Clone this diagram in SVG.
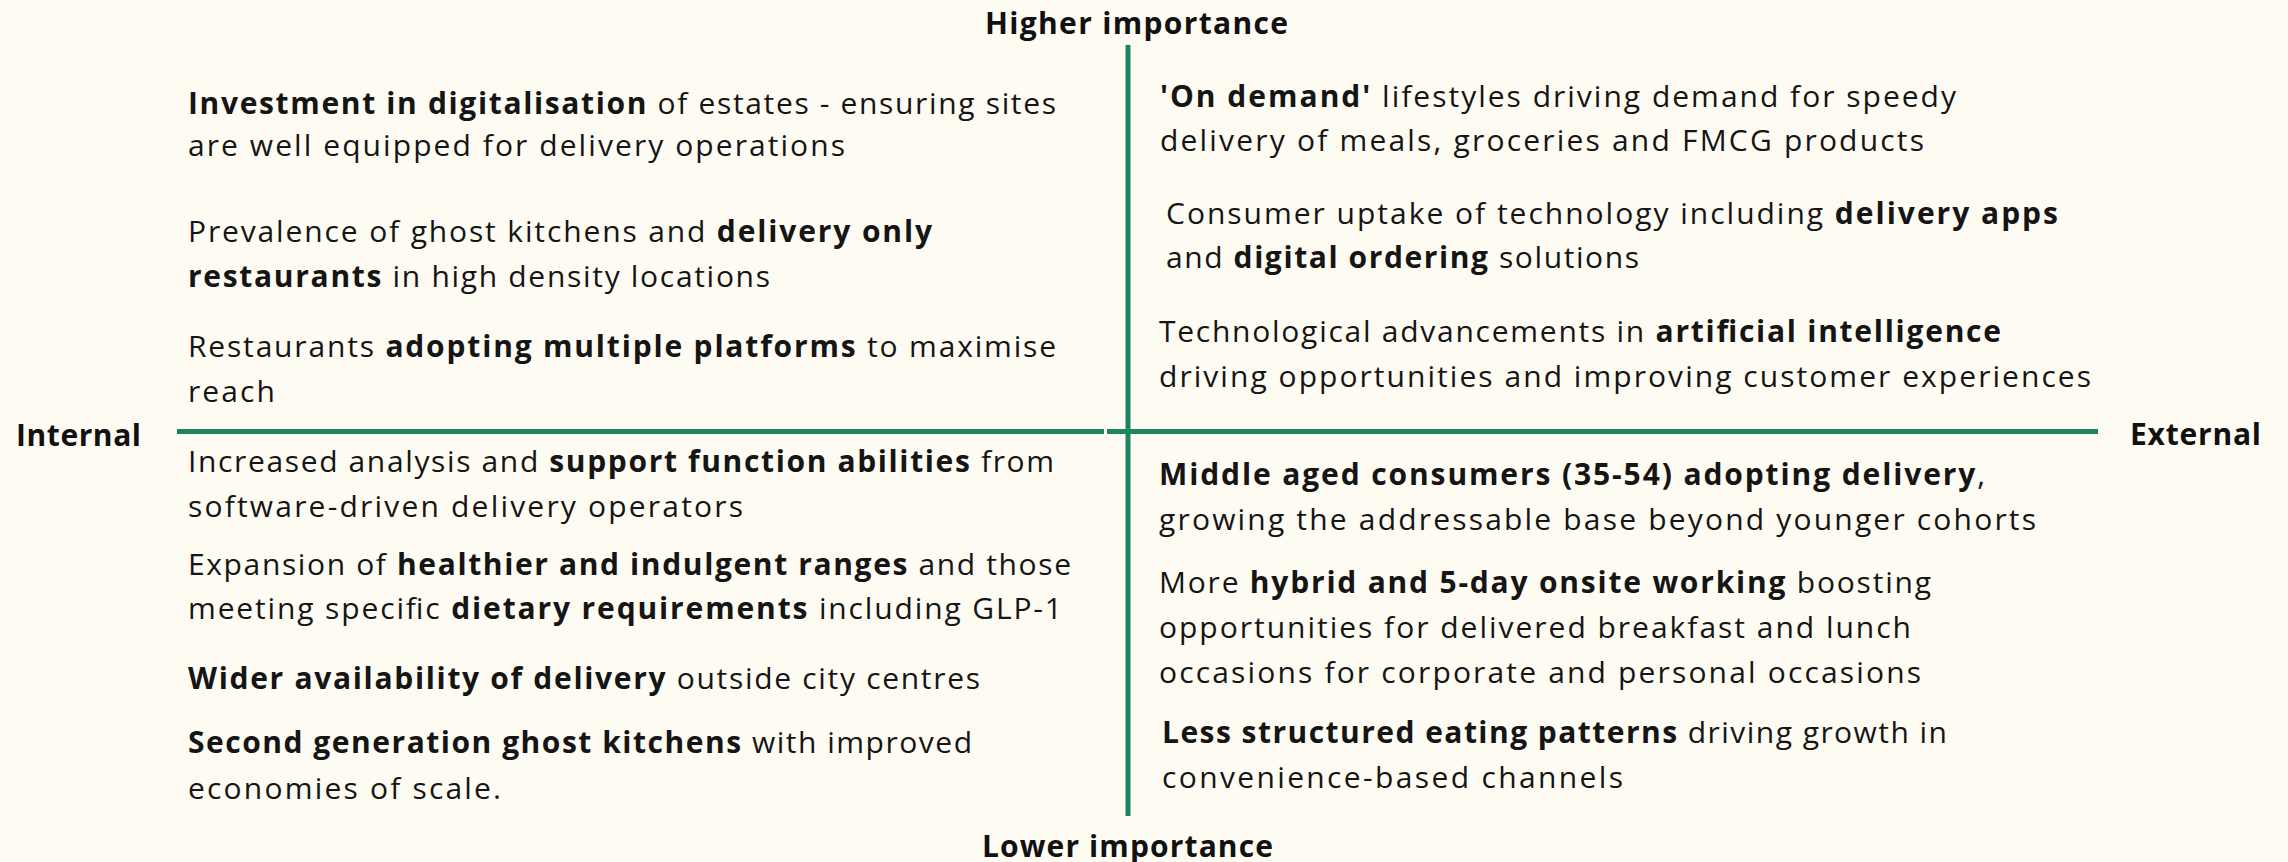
<svg xmlns="http://www.w3.org/2000/svg" width="2288" height="862" viewBox="0 0 2288 862">
<style>
.bg{fill:#FEFBF3}
.ax{stroke:#1B8562;stroke-width:5;fill:none}
.t{font-family:"Open Sans","Liberation Sans",sans-serif;font-size:30px;fill:#151515}
.b{font-weight:bold}
.lab{font-family:"Open Sans","Liberation Sans",sans-serif;font-size:30px;font-weight:bold;fill:#111}
</style>
<rect class="bg" x="0" y="0" width="2288" height="862"/>
<g id="connectors">
<line class="ax" x1="1128" y1="45" x2="1128" y2="816"/>
<line class="ax" x1="177" y1="431.5" x2="1104" y2="431.5"/>
<line class="ax" x1="1107" y1="431.5" x2="2098" y2="431.5"/>
</g>
<g id="axis-labels">
<text id="higher" class="lab" x="985" y="34" textLength="303">Higher importance</text>
<text id="lower" class="lab" x="982" y="857" textLength="291">Lower importance</text>
<text id="internal" class="lab" x="16" y="446" textLength="125">Internal</text>
<text id="external" class="lab" x="2130" y="445" textLength="131">External</text>
</g>
<g id="tl1"><text class="t" x="188" y="114" textLength="868"><tspan class="b">Investment in digitalisation</tspan> of estates - ensuring sites</text><text class="t" x="188" y="156" textLength="657">are well equipped for delivery operations</text></g>
<g id="tl2"><text class="t" x="188" y="242" textLength="744">Prevalence of ghost kitchens and <tspan class="b">delivery only</tspan></text><text class="t" x="188" y="287" textLength="582"><tspan class="b">restaurants</tspan> in high density locations</text></g>
<g id="tl3"><text class="t" x="188" y="357" textLength="868">Restaurants <tspan class="b">adopting multiple platforms</tspan> to maximise</text><text class="t" x="188" y="402" textLength="87">reach</text></g>
<g id="bl1"><text class="t" x="188" y="472" textLength="866">Increased analysis and <tspan class="b">support function abilities</tspan> from</text><text class="t" x="188" y="517" textLength="555">software-driven delivery operators</text></g>
<g id="bl2"><text class="t" x="188" y="575" textLength="883">Expansion of <tspan class="b">healthier and indulgent ranges</tspan> and those</text><text class="t" x="188" y="619" textLength="874">meeting specific <tspan class="b">dietary requirements</tspan> including GLP-1</text></g>
<g id="bl3"><text class="t" x="188" y="689" textLength="792"><tspan class="b">Wider availability of delivery</tspan> outside city centres</text></g>
<g id="bl4"><text class="t" x="188" y="753" textLength="784"><tspan class="b">Second generation ghost kitchens</tspan> with improved</text><text class="t" x="188" y="799" textLength="313">economies of scale.</text></g>
<g id="tr1"><text class="t" x="1160" y="107" textLength="796"><tspan class="b">'On demand'</tspan> lifestyles driving demand for speedy</text><text class="t" x="1160" y="151" textLength="764">delivery of meals, groceries and FMCG products</text></g>
<g id="tr2"><text class="t" x="1166" y="224" textLength="892">Consumer uptake of technology including <tspan class="b">delivery apps</tspan></text><text class="t" x="1166" y="268" textLength="473">and <tspan class="b">digital ordering</tspan> solutions</text></g>
<g id="tr3"><text class="t" x="1159" y="342" textLength="842">Technological advancements in <tspan class="b">artificial intelligence</tspan></text><text class="t" x="1159" y="387" textLength="932">driving opportunities and improving customer experiences</text></g>
<g id="br1"><text class="t" x="1159" y="485" textLength="826"><tspan class="b">Middle aged consumers (35-54) adopting delivery</tspan>,</text><text class="t" x="1159" y="530" textLength="877">growing the addressable base beyond younger cohorts</text></g>
<g id="br2"><text class="t" x="1159" y="593" textLength="772">More <tspan class="b">hybrid and 5-day onsite working</tspan> boosting</text><text class="t" x="1159" y="638" textLength="752">opportunities for delivered breakfast and lunch</text><text class="t" x="1159" y="683" textLength="762">occasions for corporate and personal occasions</text></g>
<g id="br3"><text class="t" x="1162" y="743" textLength="785"><tspan class="b">Less structured eating patterns</tspan> driving growth in</text><text class="t" x="1162" y="788" textLength="461">convenience-based channels</text></g>
</svg>
